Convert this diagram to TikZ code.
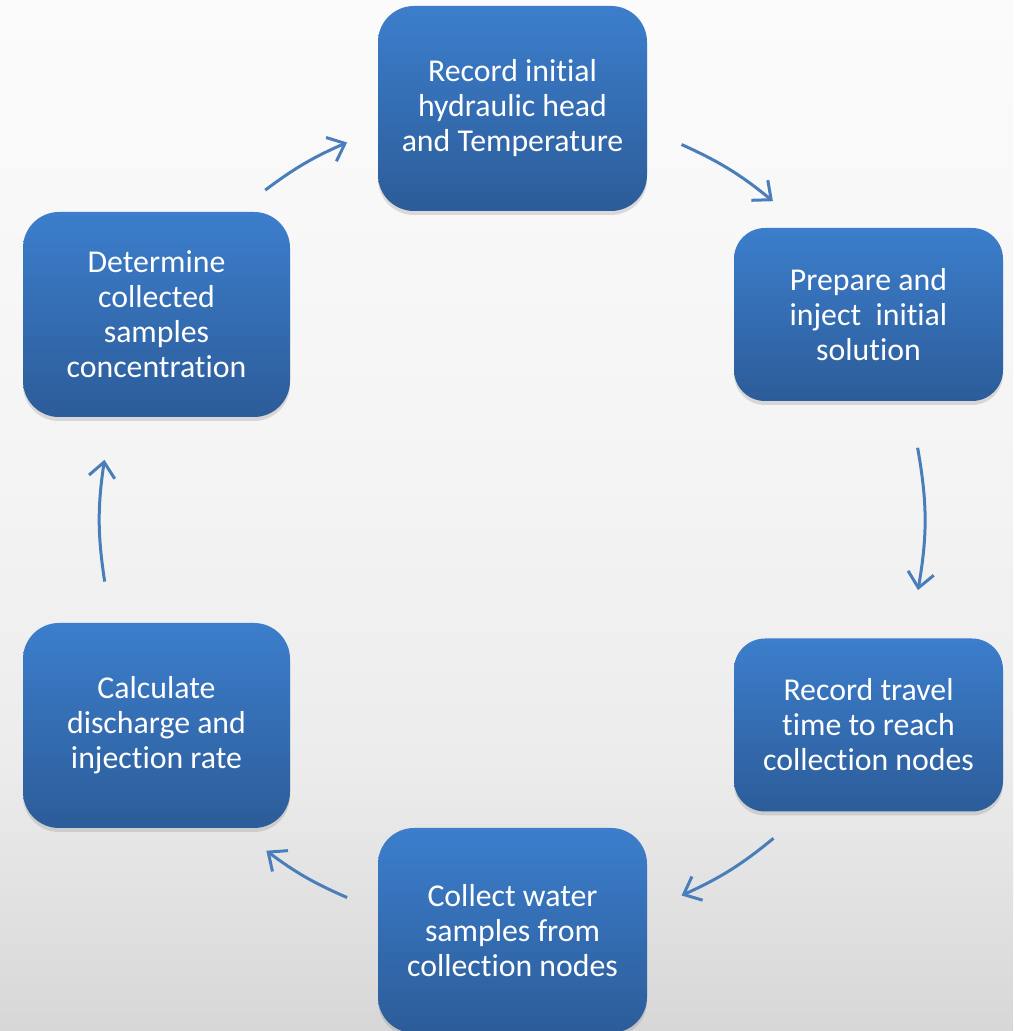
\documentclass[tikz,border=0pt]{standalone}
\usepackage{fontspec}
\setmainfont[Ligatures={NoCommon}]{Carlito}
\usetikzlibrary{arrows.meta,shadows,calc}
\definecolor{boxtop}{RGB}{60,126,204}
\definecolor{boxbot}{RGB}{44,92,153}
\definecolor{arr}{RGB}{74,126,187}
\definecolor{bgtop}{RGB}{251,251,251}
\definecolor{bgmid2}{RGB}{244,244,244}
\definecolor{bgmid1}{RGB}{236,236,236}
\definecolor{bgbot}{RGB}{215,215,215}
\pgfdeclareverticalshading{bgshade}{100bp}{color(0bp)=(bgbot); color(25bp)=(bgbot); color(38bp)=(bgmid1); color(52bp)=(bgmid2); color(75bp)=(bgtop); color(100bp)=(bgtop)}
\begin{document}
\begin{tikzpicture}[x=1pt,y=1pt,
  stepbox/.style={rounded corners=36pt, minimum width=269pt, minimum height=205pt,
    inner sep=0pt, align=center, text=white, font=\fontsize{31.8}{35}\selectfont,
    top color=boxtop, bottom color=boxbot, draw=none,
    drop shadow={shadow xshift=0pt, shadow yshift=-4pt, opacity=0.25}},
  shortbox/.style={stepbox, minimum height=173pt, rounded corners=31pt},
  cyc/.style={draw=arr, line width=3pt, -{Straight Barb[length=15pt,width=26pt]}, bend left=#1}
]
\shade[shading=bgshade] (0,0) rectangle (1013,1031);
\useasboundingbox (0,0) rectangle (1013,1031);

\node[stepbox] (rec) at (512.5,922.5) {Record initial\\hydraulic head\\and Temperature};
\node[shortbox] (prep) at (868.5,716.5) {Prepare and\\inject~ initial\\solution};
\node[shortbox] (trav) at (868.5,306) {Record travel\\time to reach\\collection nodes};
\node[stepbox] (coll) at (512.5,100.5) {Collect water\\samples from\\collection nodes};
\node[stepbox, minimum width=267pt] (calcq) at (156.5,305.5) {Calculate\\discharge and\\injection rate};
\node[stepbox, minimum width=267pt] (det) at (156.5,716.5) {Determine\\collected\\samples\\concentration};

\coordinate (c) at (512,511);
\coordinate (a1s) at ($(c)+(126.8:412)$);
\coordinate (a1e) at ($(c)+(113.6:412)$);
\coordinate (a2s) at ($(c)+(65.7:412)$);
\coordinate (a2e) at ($(c)+(50.7:412)$);
\coordinate (a3s) at ($(c)+(10.1:412)$);
\coordinate (a3e) at ($(c)+(-9.8:412)$);
\coordinate (a4s) at ($(c)+(-50.6:412)$);
\coordinate (a4e) at ($(c)+(-65.7:412)$);
\coordinate (a5s) at ($(c)+(-113.6:412)$);
\coordinate (a5e) at ($(c)+(-126.6:412)$);
\coordinate (a6s) at ($(c)+(188.6:412)$);
\coordinate (a6e) at ($(c)+(171.6:412)$);

\draw[cyc=6.6] (a1s) to (a1e);
\draw[cyc=7.5] (a2s) to (a2e);
\draw[cyc=10] (a3s) to (a3e);
\draw[cyc=7.5] (a4s) to (a4e);
\draw[cyc=6.6] (a5s) to (a5e);
\draw[cyc=8.5] (a6s) to (a6e);
\end{tikzpicture}
\end{document}
